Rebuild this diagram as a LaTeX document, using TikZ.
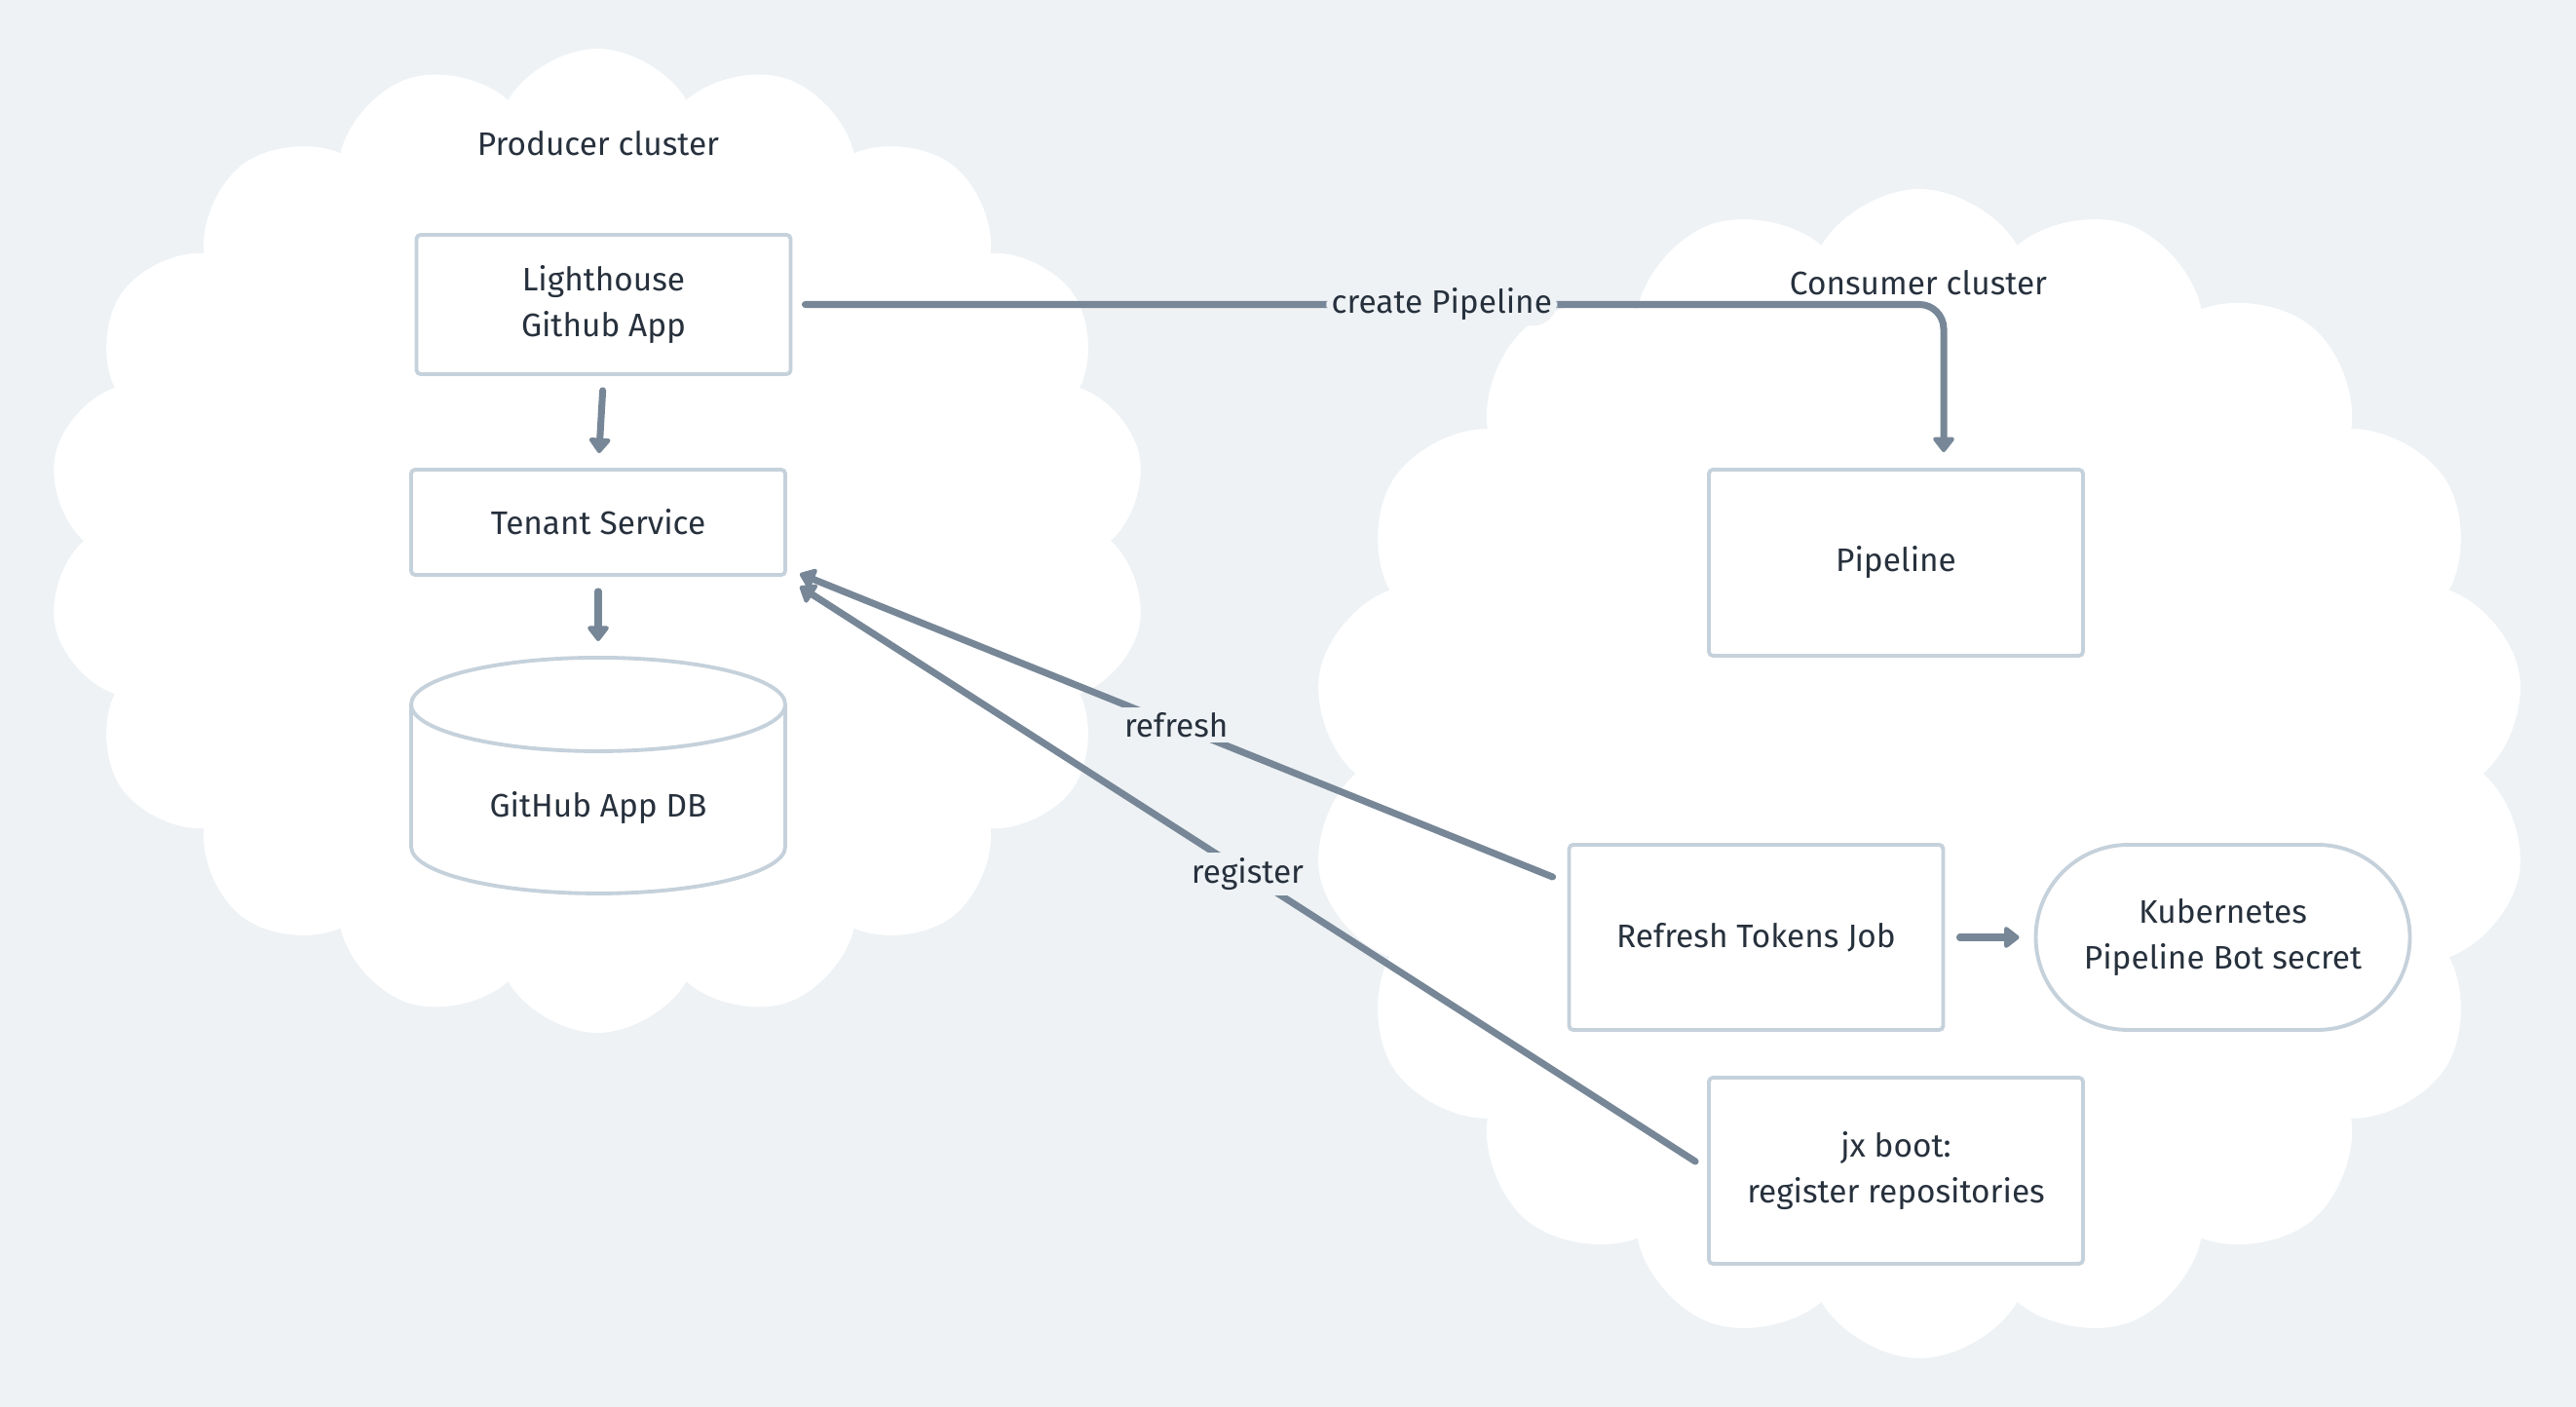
\documentclass[tikz,border=0pt]{standalone}
\usepackage{fontspec}
\setmainfont{Fira Sans}
\usepackage{tikz}
\usetikzlibrary{arrows.meta,shapes.geometric,shapes.symbols}
\definecolor{bg}{HTML}{EEF2F5}
\definecolor{edge}{HTML}{C5D1DB}
\definecolor{wire}{HTML}{778797}
\definecolor{ink}{HTML}{27313D}
\tikzset{%
  every box/.style={
    rectangle,
    draw=edge,
    line width=1.1pt,
    rounded corners=1.2pt,
    fill=white,
    text=ink,
    align=center,
    font=\fontsize{9.5pt}{13.4pt}\selectfont,
    minimum width=3.84cm
  },
  box pill/.style={
    rounded corners=9.5mm
  },
  box db/.style={
    cylinder,
    shape border rotate=90,
    aspect=0.39,
    rounded corners=0pt
  },
  every cloud/.style={
    cloud,
    cloud puffs=18,
    cloud puff arc=120,
    cloud ignores aspect,
    fill=white,
    draw=none
  },
  tag/.style={
    text=ink,
    font=\fontsize{9.5pt}{13.4pt}\selectfont
  },
  wire tag/.style={
    tag,
    fill=bg,
    inner sep=1.5pt
  },
  wire/.style={
    draw=wire,
    line width=2pt,
    line cap=round,
    line join=round,
    -{Triangle[length=1.7mm,width=2.5mm,round]}
  }
}

\begin{document}
\begin{tikzpicture}[x=1cm, y=1cm]

\fill [bg] (0,0) rectangle (26.44,-14.44);
\useasboundingbox (0,0) rectangle (26.44,-14.44);

% clusters
\node [every cloud, minimum width=11.3cm, minimum height=10.1cm] (producer) at (6.13,-5.55) {};
\node [every cloud, minimum width=12.5cm, minimum height=12cm] (consumer) at (19.7,-7.94) {};
\node [tag] (producer-tag) at (6.14,-1.47) {Producer cluster};
\node [tag] (consumer-tag) at (19.69,-2.90) {Consumer cluster};

% producer side
\node [every box, minimum height=1.43cm] (light) at (6.195,-3.125) {Lighthouse\\Github App};
\node [every box, minimum height=1.08cm] (tenant) at (6.14,-5.36) {Tenant Service};
\node [every box, box db, minimum height=2.42cm, anchor=north] (db) at (6.14,-6.73) {GitHub App DB};

% consumer side
\node [every box, minimum height=1.91cm] (pipe) at (19.46,-5.775) {Pipeline};
\node [every box, minimum height=1.90cm] (job) at (18.025,-9.62) {Refresh Tokens Job};
\node [every box, box pill, minimum height=1.90cm] (kube) at (22.815,-9.62) {Kubernetes\\Pipeline Bot secret};
\node [every box, minimum height=1.91cm] (jx) at (19.46,-12.015) {jx boot:\\register repositories};

\foreach \a/\b in {light/tenant, tenant/db}
  \draw [wire, shorten <=0.15cm, shorten >=0.15cm] (\a.south) -- (\b.north);

\draw [wire, shorten <=0.15cm, shorten >=0.15cm] (job.east) -- (kube.west);

\draw [wire, rounded corners=0.25cm, shorten <=0.13cm, shorten >=0.16cm]
  (light.east) -| ([xshift=4.9mm]pipe.north)
  node [wire tag, pos=0.282] {create Pipeline};

\draw [wire] ([xshift=-1.5mm,yshift=6.2mm]job.west) -- ([xshift=1.3mm,yshift=0.3mm]tenant.south east)
  node [wire tag, midway] {refresh};
\draw [wire] ([xshift=-1.2mm,yshift=0.95mm]jx.west) -- ([xshift=1.3mm,yshift=-1mm]tenant.south east)
  node [wire tag, midway] {register};

\end{tikzpicture}
\end{document}
